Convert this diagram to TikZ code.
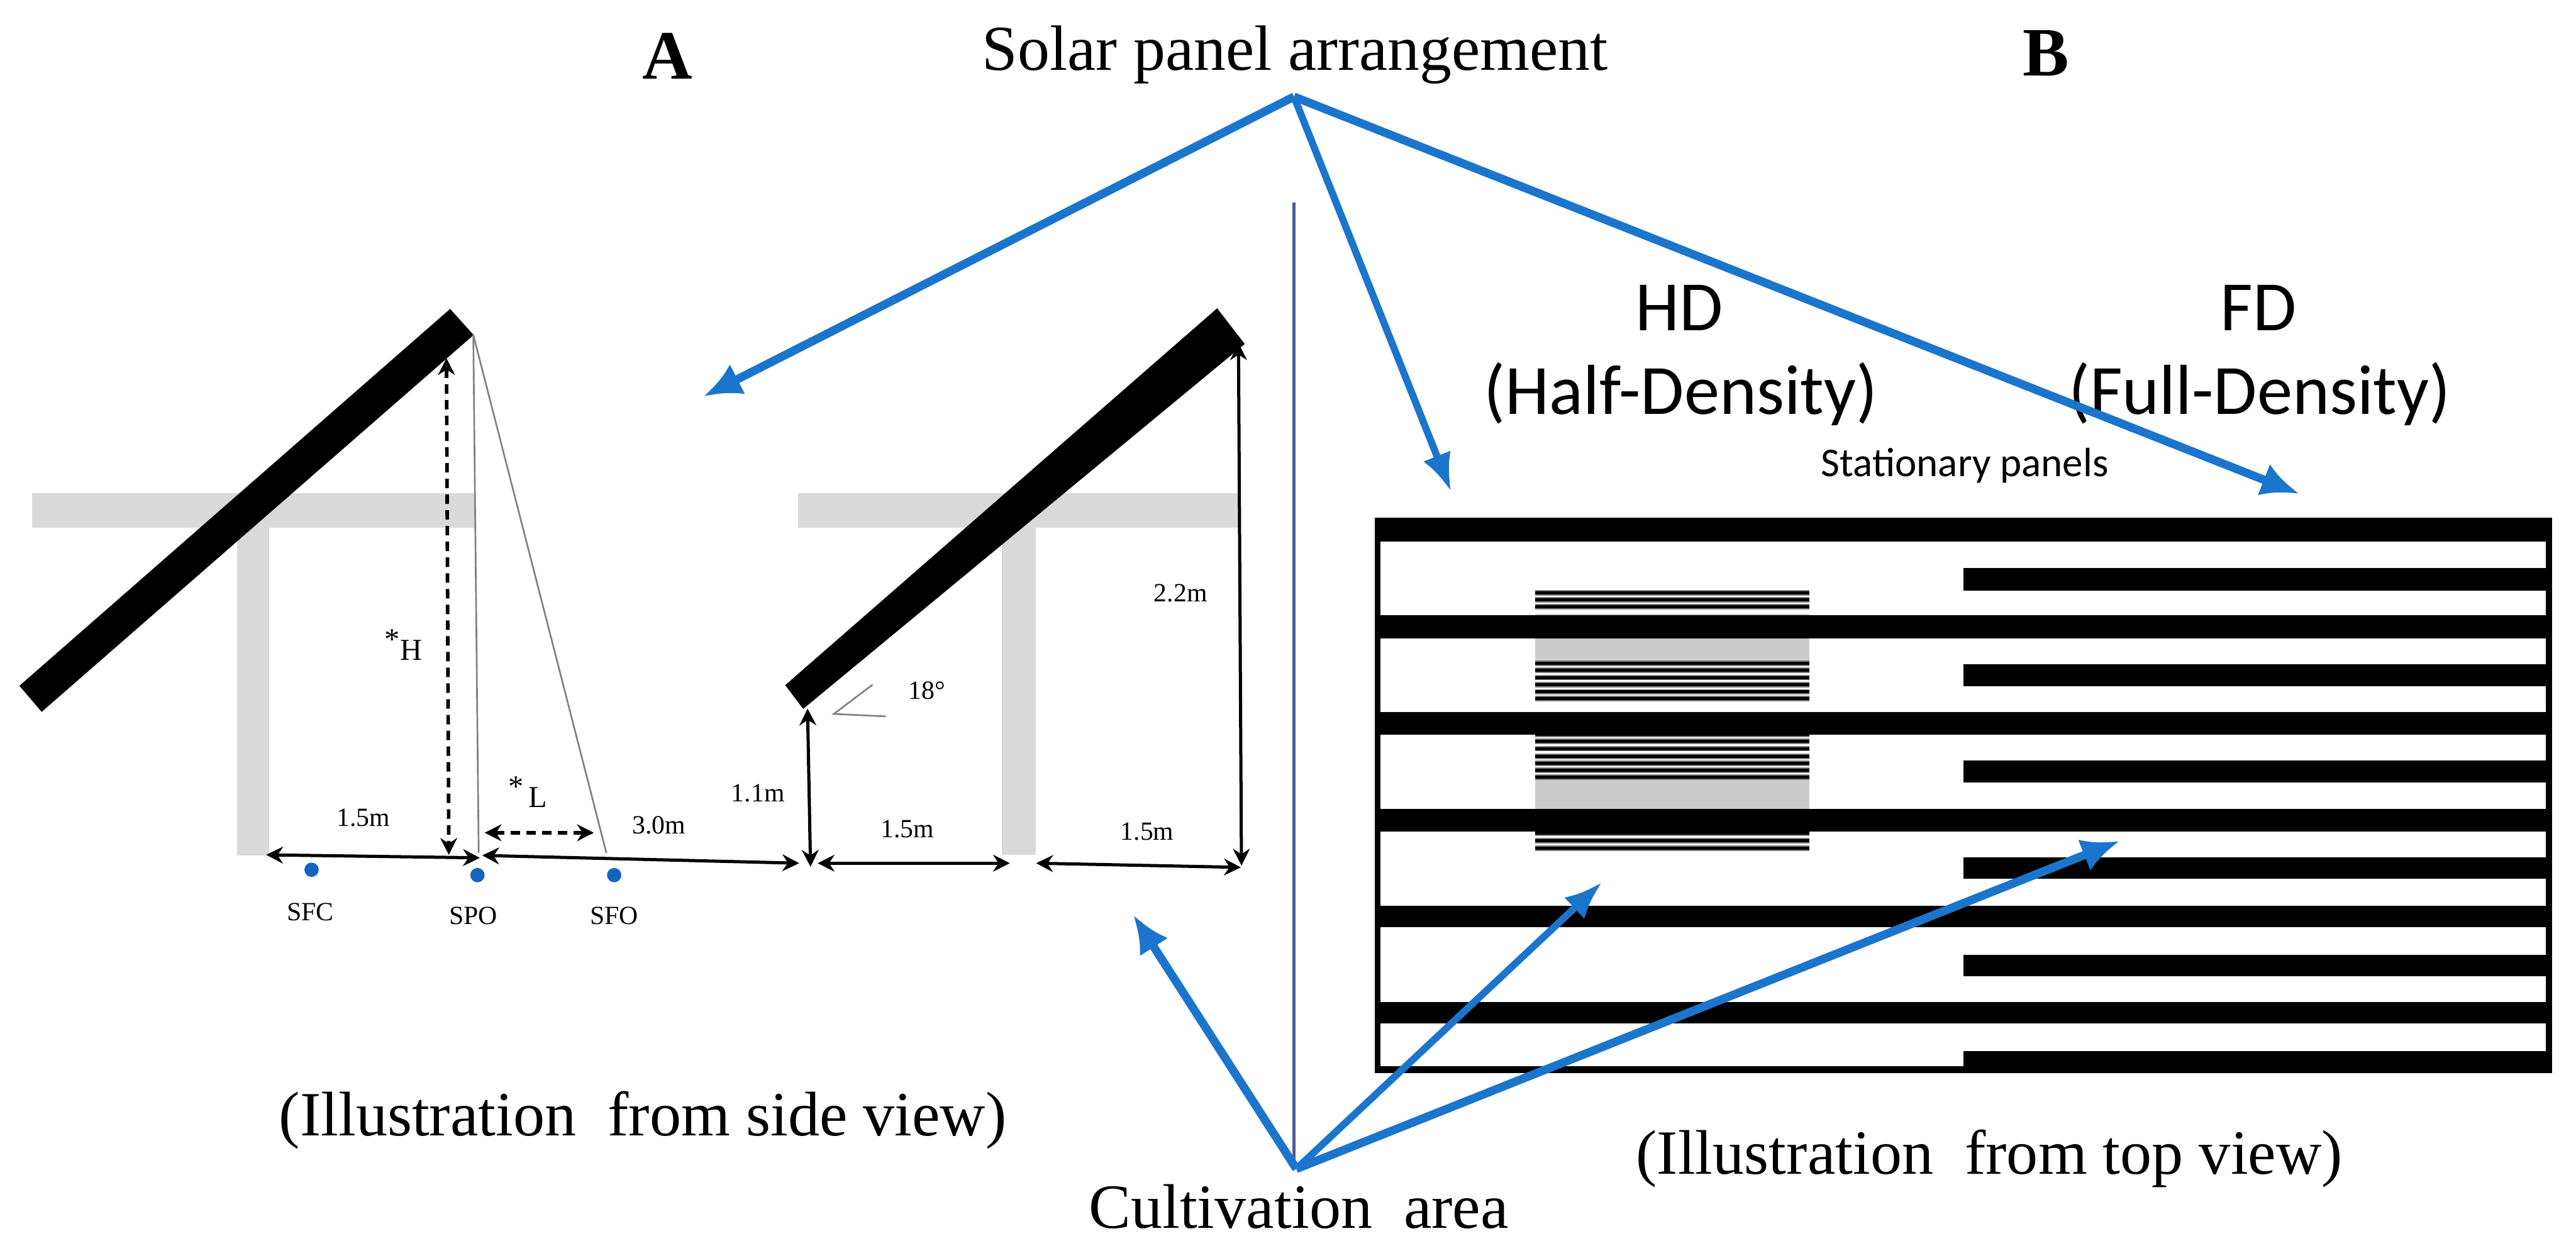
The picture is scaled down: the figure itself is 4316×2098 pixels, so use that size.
\documentclass[tikz,border=0pt]{standalone}
\usepackage{fontspec}
\setmainfont{Liberation Serif}
\newfontfamily\calibrifont{Carlito}
\usetikzlibrary{arrows.meta}
\definecolor{arrowblue}{HTML}{1B75CC}
\definecolor{dotblue}{HTML}{1565C0}
\definecolor{postgrey}{HTML}{D9D9D9}
\definecolor{blockgrey}{HTML}{CBCBCB}
\definecolor{midline}{HTML}{4A5B9B}
\tikzset{
    bigblue/.style={draw=arrowblue,line width=4pt,-{Latex[length=18pt,width=16pt]}},
    thinblue/.style={draw=arrowblue,line width=3.4pt,-{Latex[length=18pt,width=14pt]}},
    dimline/.style={draw=black,line width=1.5pt,{Stealth[length=8pt,width=8pt]}-{Stealth[length=8pt,width=8pt]}},
    dimdash/.style={dimline,dash pattern=on 4.5pt off 3pt,line width=1.7pt},
    rayline/.style={draw=gray,line width=0.8pt},
    structure/.style={fill=postgrey},
    panel/.style={fill=black},
    slanted/.style={fill=black,draw=black,line width=1pt,line join=miter},
    smalltext/.style={font=\fontsize{12.5}{15}\selectfont,inner sep=0pt},
    marktext/.style={font=\fontsize{14.5}{15}\selectfont,inner sep=0pt},
    bigtext/.style={font=\fontsize{30}{36}\selectfont,anchor=base,inner sep=0pt},
    titletext/.style={font=\fontsize{33}{36}\selectfont\bfseries,anchor=base,inner sep=0pt},
    sanstext/.style={font=\fontsize{33.7}{40}\selectfont\calibrifont,anchor=base,inner sep=0pt}
}
\begin{document}
\begin{tikzpicture}[x=0.01cm,y=-0.01cm]
    \useasboundingbox (0,0) rectangle (4316,2098);

    % side view, supports
    \fill[structure] (54,826) rectangle (796,884);
    \fill[structure] (397,884) rectangle (451,1433);
    \fill[structure] (1337,826) rectangle (2077,884);
    \fill[structure] (1679,884) rectangle (1735,1432);

    % side view, panels
    \draw[slanted] (754,520) -- (791,561) -- (70,1190) -- (35,1149) -- cycle;
    \draw[slanted] (2039,519) -- (2083,576) -- (1346,1185) -- (1318,1148) -- cycle;

    % end points of the dimension lines
    \coordinate (hTop) at (748,600);
    \coordinate (hBot) at (752,1432);
    \coordinate (lLeft) at (812,1395);
    \coordinate (lRight) at (995,1395);
    \coordinate (aLeft) at (446,1432);
    \coordinate (aRight) at (804,1437);
    \coordinate (bLeft) at (808,1433);
    \coordinate (bRight) at (1339,1446);
    \coordinate (cTop) at (1353,1187);
    \coordinate (cBot) at (1358,1452);
    \coordinate (dLeft) at (1370,1446);
    \coordinate (dRight) at (1692,1446);
    \coordinate (eLeft) at (1736,1446);
    \coordinate (eRight) at (2079,1453);
    \coordinate (fTop) at (2075,575);
    \coordinate (fBot) at (2080,1450);
    \coordinate (panelEdge) at (793,561);
    \coordinate (rayA) at (802,1429);
    \coordinate (rayB) at (1016,1429);
    \coordinate (angTip) at (1397,1196);
    \coordinate (angUp) at (1462,1147);
    \coordinate (angFlat) at (1484,1200);

    \draw[rayline] (panelEdge) -- (rayA);
    \draw[rayline] (panelEdge) -- (rayB);
    \draw[rayline] (angUp) -- (angTip) -- (angFlat);

    \draw[dimdash] (hTop) -- (hBot);
    \draw[dimdash] (lLeft) -- (lRight);
    \draw[dimline] (aLeft) -- (aRight);
    \draw[dimline] (bLeft) -- (bRight);
    \draw[dimline] (cTop) -- (cBot);
    \draw[dimline] (dLeft) -- (dRight);
    \draw[dimline] (eLeft) -- (eRight);
    \draw[dimline] (fTop) -- (fBot);

    % measurement points
    \fill[dotblue] (522,1457) circle (12);
    \fill[dotblue] (800,1466) circle (12);
    \fill[dotblue] (1029,1466) circle (12);

    \node[smalltext] (sfc) at (520,1528) {SFC};
    \node[smalltext] (spo) at (793,1534) {SPO};
    \node[smalltext] (sfo) at (1029,1534) {SFO};
    \node[smalltext] (widthA) at (609,1370) {1.5m};
    \node[smalltext] (widthB) at (1104,1382) {3.0m};
    \node[smalltext] (heightA) at (1270,1329) {1.1m};
    \node[smalltext] (widthC) at (1520,1389) {1.5m};
    \node[smalltext] (widthD) at (1922,1393) {1.5m};
    \node[smalltext] (heightB) at (1978,994) {2.2m};
    \node[smalltext] (angle) at (1553,1157) {18°};
    \node[marktext] (hLabel) at (676,1080) {\raisebox{0.35em}{*}H};
    \node[marktext] (lLabel) at (884,1327) {\raisebox{0.35em}{*}\,L};

    % top view, half density block
    \fill[blockgrey] (2572,1028) rectangle (3032,1110);
    \fill[blockgrey] (2572,1302) rectangle (3032,1356);
    \foreach \py in {993,1005,1016,1111,1123,1135,1147,1159,1170,1230,1242,1254,1267,1279,1290,1302,1384,1396,1408,1421}
    {
        \draw[line width=2.6pt,draw=gray] (2572,\py) -- (3032,\py);
        \draw[line width=1.5pt,draw=black] (2572,\py) -- (3032,\py);
    }

    % top view, long rows
    \foreach \ya/\yb in {867/907,1031/1070,1193/1231,1355/1393,1517/1553,1679/1714}
        \fill[panel] (2303,\ya) rectangle (4276,\yb);
    % top view, rows of the full density half
    \foreach \ya/\yb in {952/989,1113/1150,1274/1311,1436/1472,1600/1635,1761/1798}
        \fill[panel] (3290,\ya) rectangle (4276,\yb);
    \fill[panel] (2303,867) rectangle (2313,1798);
    \fill[panel] (4265,867) rectangle (4276,1798);
    \fill[panel] (2303,1786) rectangle (3290,1798);

    % divider
    \coordinate (divTop) at (2168,339);
    \coordinate (divBot) at (2168,1945);
    \draw[draw=midline,line width=1.7pt] (divTop) -- (divBot);

    % texts
    \node[bigtext,font=\fontsize{30.5}{36}\selectfont] (solar) at (2170,118) {Solar panel arrangement};
    \node[titletext] (titleA) at (1118,132) {A};
    \node[titletext] (titleB) at (3428,127) {B};
    \node[sanstext] (hd) at (2813,554) {HD};
    \node[sanstext] (hdLong) at (2816,694) {(Half-Density)};
    \node[sanstext] (fd) at (3784,554) {FD};
    \node[sanstext] (fdLong) at (3786,694) {(Full-Density)};
    \node[font=\fontsize{19.5}{24}\selectfont\calibrifont,anchor=base,inner sep=0pt] (stationary) at (3292,798) {Stationary panels};
    \node[bigtext] (sideView) at (1077,1902) {(Illustration \ from side view)};
    \node[bigtext] (topView) at (3333,1967) {(Illustration \ from top view)};
    \node[bigtext] (cultivation) at (2176,2057) {Cultivation \ area};

    % blue arrows
    \coordinate (solarTip) at (2168,162);
    \coordinate (cultTip) at (2172,1958);
    \coordinate (toSide) at (1179,664);
    \coordinate (toHalf) at (2431,823);
    \coordinate (toFull) at (3852,827);
    \coordinate (toGround) at (1899,1533);
    \coordinate (toBlock) at (2684,1478);
    \coordinate (toRows) at (3551,1409);
    \draw[bigblue] (solarTip) -- (toSide);
    \draw[thinblue] (solarTip) -- (toHalf);
    \draw[bigblue] (solarTip) -- (toFull);
    \draw[bigblue] (cultTip) -- (toGround);
    \draw[thinblue] (cultTip) -- (toBlock);
    \draw[bigblue] (cultTip) -- (toRows);
\end{tikzpicture}
\end{document}
